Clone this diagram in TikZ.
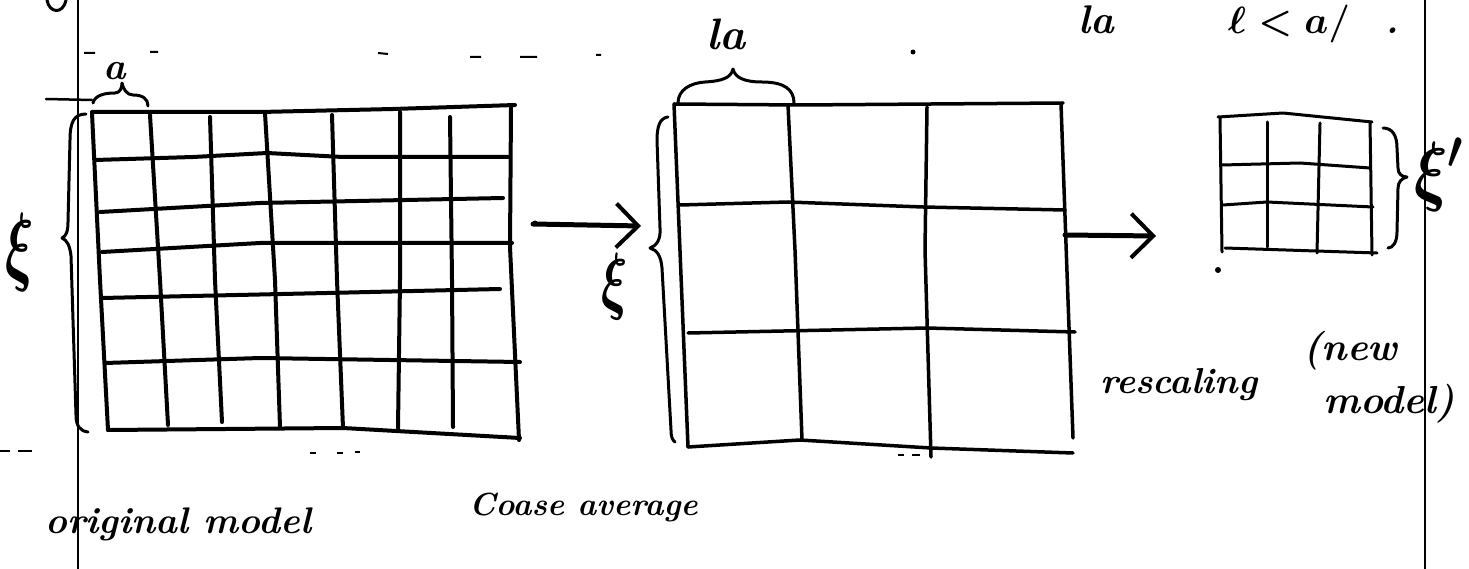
\RequirePackage{fix-cm}
\documentclass[tikz,border=0pt]{standalone}
\usepackage{fontspec}
\usepackage{graphicx}
\usetikzlibrary{arrows.meta}
\begin{document}
\begin{tikzpicture}[x=1pt,y=-1pt,
  pen/.style={line width=#1, line cap=round, line join=round},
  margin/.style={line width=2pt},
  rule/.style={line width=2pt},
  brace/.style={pen=3pt},
  flow/.style={line width=5pt, line cap=round,
    -{Straight Barb[length=22pt,width=44pt,line width=4pt]}},
  handtext/.style={inner sep=0pt, font=\fontsize{#1}{#1}\selectfont\bfseries\itshape\boldmath},
  greek/.style={inner sep=0pt, font=\fontsize{#1}{#1}\selectfont\boldmath}]
\useasboundingbox (0,0) rectangle (1469,569);

% notebook margins and faint ruling
\draw[margin] (78,0) -- (78,569);
\draw[margin] (1425,0) -- (1425,569);
\draw[rule] (84,53) -- (95,53) (150,52) -- (158,52) (378,53) -- (388,54)
  (470,57) -- (481,57) (520,57) -- (537,57) (596,55) -- (601,55);
\draw[rule] (0,451) -- (10,451) (18,451) -- (32,451) (310,453) -- (316,453)
  (337,453) -- (343,453) (355,452) -- (360,452) (898,455) -- (904,455)
  (912,455) -- (920,455);
% tail of a letter from the line above
\draw[pen=3pt] (47,0) .. controls (49,13) and (63,15) .. (66,0);
\fill (913,52) circle (2.5);
\fill (535,223) circle (2.5);
\fill (1218,270) circle (3);

% ---- fine lattice (spacing a) ----
\begin{scope}[pen=4pt]
  \draw (92,112) -- (260,112) -- (393,109) -- (515,105);
  \draw (92,113) -- (100,280) -- (108,430);
  \draw (511,106) -- (510,247) -- (519,440);
  \draw (108,430) -- (343,428) -- (520,438);
  \draw (150,115) -- (160,280) -- (168,425);
  \draw (210,117) -- (215,280) -- (222,422);
  \draw (265,113) -- (275,280) -- (280,427);
  \draw (332,115) -- (337,280) -- (343,428);
  \draw (400,112) -- (400,280) -- (398,428);
  \draw (450,117) -- (452,280) -- (453,427);
  \draw (95,160) -- (193,157) -- (267,153) -- (343,157) -- (508,157);
  \draw (100,212) -- (260,203) -- (503,198);
  \draw (102,252) -- (260,243) -- (512,243);
  \draw (102,298) -- (327,293) -- (500,289);
  \draw (105,363) -- (260,358) -- (520,362);
\end{scope}

% ---- coarse-grained lattice (spacing la) ----
\begin{scope}[pen=3.5pt]
  \draw (674,104) -- (800,105) -- (1063,103);
  \draw (674,104) -- (688,447);
  \draw (1061,104) -- (1068,300) -- (1073,438);
  \draw (688,447) -- (800,440) -- (931,448) -- (1073,453);
  \draw (788,105) -- (795,250) -- (802,440);
  \draw (927,107) -- (925,250) -- (931,457);
  \draw (680,205) -- (788,202) -- (923,207) -- (1065,210);
  \draw (688,333) -- (927,328) -- (1075,332);
\end{scope}

% ---- rescaled lattice ----
\begin{scope}[pen=3pt]
  \draw (1218,117) -- (1283,113) -- (1372,122);
  \draw (1220,118) -- (1222,252);
  \draw (1370,122) -- (1372,255);
  \draw (1225,248) -- (1377,253);
  \draw (1267,122) -- (1267,247);
  \draw (1320,123) -- (1317,253);
  \draw (1222,165) -- (1300,163) -- (1370,168);
  \draw (1223,205) -- (1267,202) -- (1373,207);
\end{scope}

% braces
\draw[pen=2.5pt] (46,99) -- (92,100);
\draw[brace] (93,103) .. controls (95,95) and (105,93) .. (115,93)
  .. controls (120,93) and (122,88) .. (122,83)
  .. controls (123,89) and (127,95) .. (133,95)
  .. controls (143,95) and (148,99) .. (148,106);
\draw[brace] (86,114) .. controls (74,114) and (70,122) .. (70,140)
  -- (68,222) .. controls (68,232) and (66,236) .. (62,238)
  .. controls (67,240) and (70,246) .. (71,256)
  -- (76,415) .. controls (76,426) and (80,431) .. (88,432);
\draw[brace] (678,103) .. controls (678,90) and (690,83) .. (705,82)
  .. controls (722,81) and (731,78) .. (733,69)
  .. controls (735,78) and (745,82) .. (762,82)
  .. controls (785,82) and (794,90) .. (794,103);
\draw[brace] (668,117) .. controls (660,118) and (657,126) .. (657,140)
  -- (660,228) .. controls (661,240) and (656,246) .. (650,248)
  .. controls (657,250) and (661,256) .. (662,268)
  -- (671,430) .. controls (671,436) and (672,440) .. (675,442);
\draw[brace] (1383,128) .. controls (1392,128) and (1397,135) .. (1397,148)
  -- (1398,168) .. controls (1398,174) and (1402,177) .. (1407,177)
  .. controls (1402,178) and (1398,182) .. (1398,188)
  -- (1397,232) .. controls (1397,242) and (1393,248) .. (1388,248);

% arrows between the stages
\coordinate (fineout) at (533,224);
\coordinate (coarsein) at (641,226);
\coordinate (coarseout) at (1065,235);
\coordinate (newin) at (1156,236);
\draw[flow] (fineout) -- (coarsein);
\draw[flow] (coarseout) -- (newin);

% labels
\node[handtext=38, anchor=base west] (alab) at (103,80) {a};
\node[handtext=44, anchor=base west] (lalab) at (706,50) {la};
\node[handtext=40, anchor=base west] (latop) at (1078,34) {la};
\node[handtext=38, anchor=base west] (ltop) at (1228,34) {$\ell<a/$\hspace{36pt}.};
\node[greek=88] (xileft) at (20,252) {\scalebox{0.6}[1]{$\xi$}};
\node[greek=75] (ximid) at (615,287) {\scalebox{0.65}[1]{$\xi$}};
\node[greek=78, anchor=base west] (xinew) at (1414,197) {\scalebox{0.8}[1]{$\xi'$}};
\node[handtext=37, anchor=base west] (orig) at (45,533) {original model};
\node[handtext=32, anchor=base west] (coarse) at (469,515) {Coase average};
\node[handtext=36, anchor=base west] (resc) at (1100,393) {rescaling};
\node[handtext=39, anchor=base west] (newa) at (1303,360) {(new};
\node[handtext=39, anchor=base west] (newb) at (1323,413) {model)};
\end{tikzpicture}
\end{document}
